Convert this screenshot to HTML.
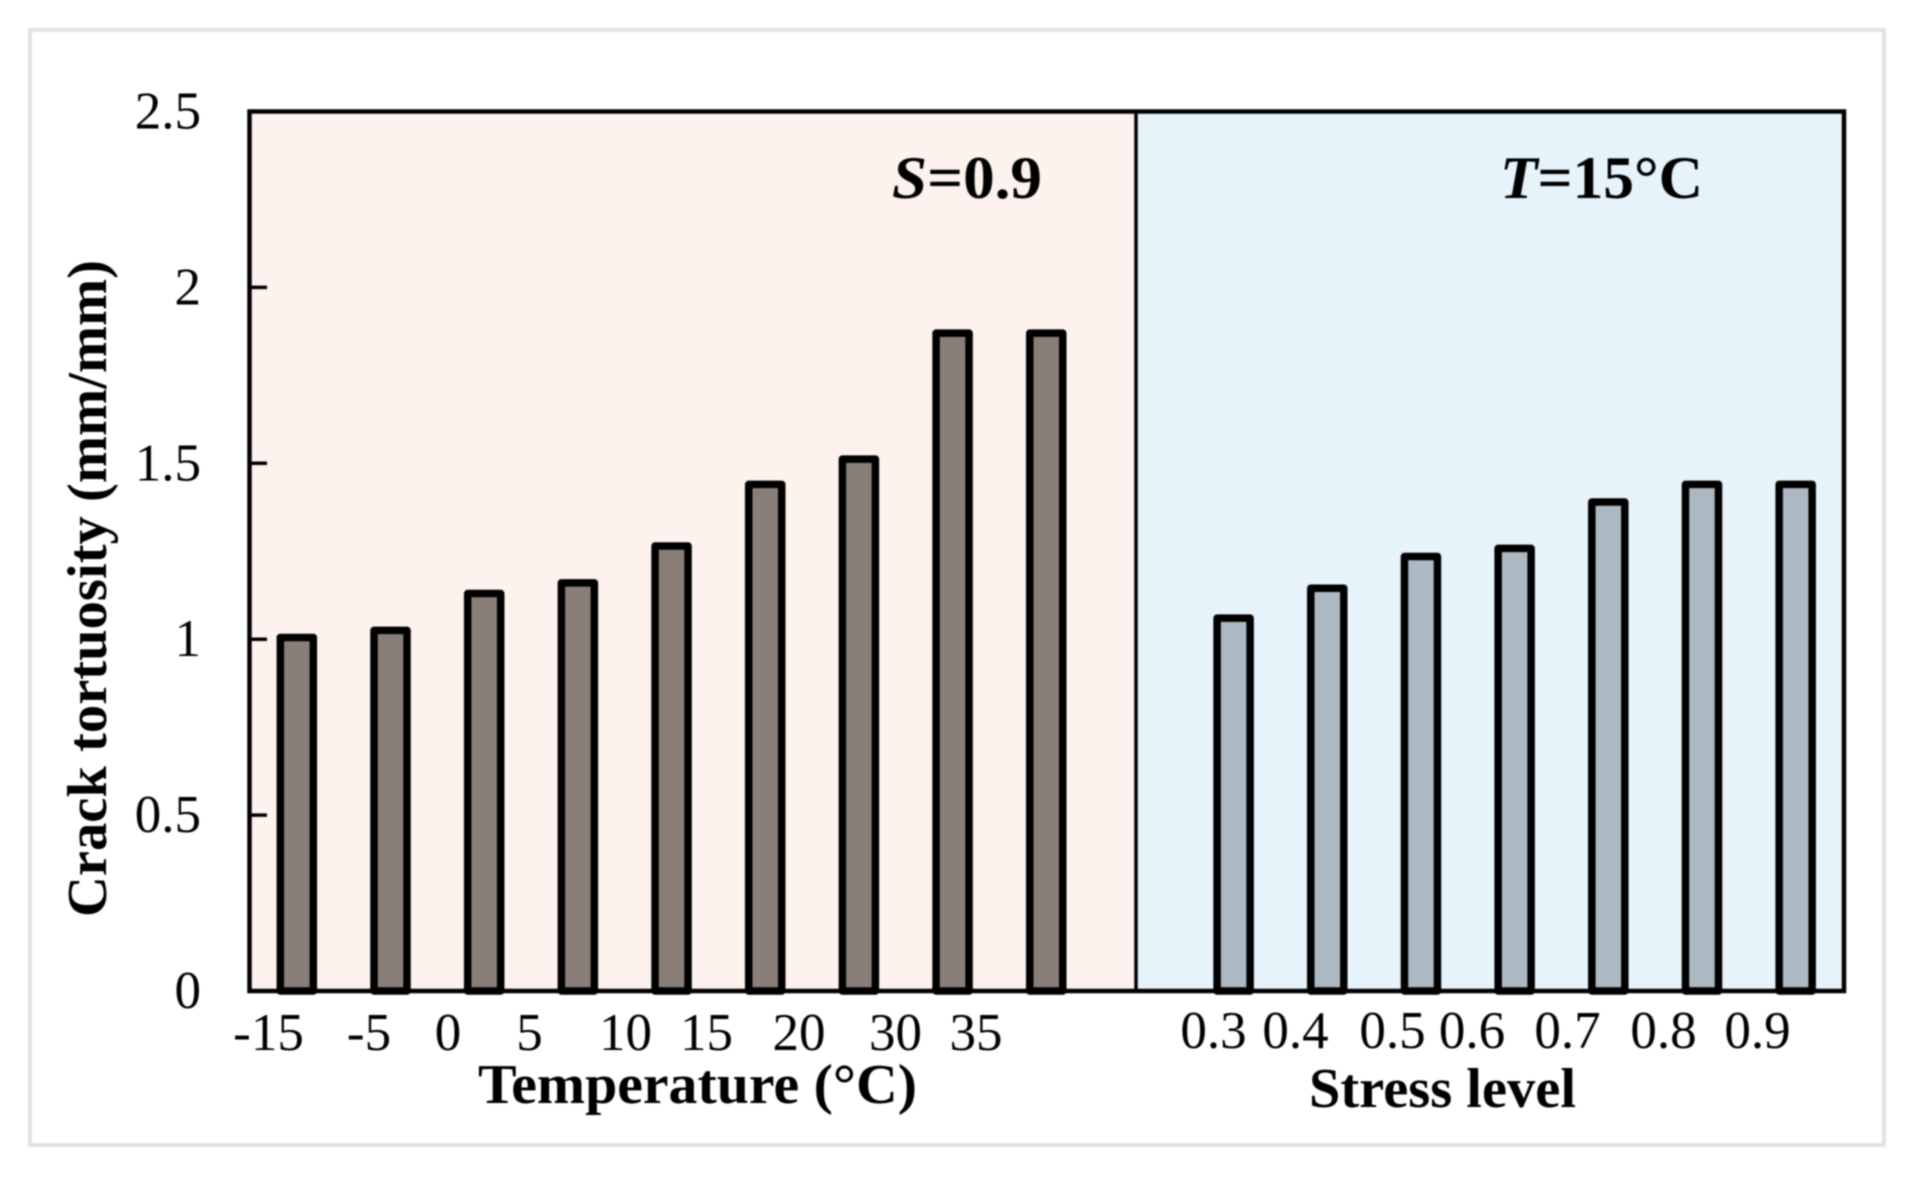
<!DOCTYPE html>
<html lang="en">
<head>
<meta charset="utf-8">
<title>Crack tortuosity chart</title>
<style>
html,body{margin:0;padding:0;background:#fff;width:1913px;height:1181px;overflow:hidden}
svg{display:block;filter:blur(0.8px)}
text{font-family:"Liberation Serif",serif;fill:#000}
.tick{font-size:53px}
.title{font-size:56px;font-weight:bold}
.note{font-size:60px;font-weight:bold}
</style>
</head>
<body>
<svg id="chart" xmlns="http://www.w3.org/2000/svg" width="1913" height="1181" viewBox="0 0 1913 1181">
  <rect x="30" y="30" width="1854" height="1115" fill="#fff" stroke="#e2e2e2" stroke-width="4"/>
  <rect x="250" y="111.5" width="886" height="879.5" fill="#fdf2ed"/>
  <rect x="1136" y="111.5" width="708.5" height="879.5" fill="#e6f3fb"/>
  <g id="bars"></g>
  <g id="ticks"></g>
  <line x1="1136" y1="111.5" x2="1136" y2="991" stroke="#000" stroke-width="3.5"/>
  <rect x="249.5" y="111.5" width="1594.5" height="879.5" fill="none" stroke="#000" stroke-width="4.5"/>

  <text class="title" transform="translate(106,917) rotate(-90)" textLength="657" lengthAdjust="spacingAndGlyphs">Crack tortuosity (mm/mm)</text>

  <g text-anchor="middle">
    <text class="tick" x="268.5" y="1050">-15</text>
    <text class="tick" x="369" y="1050">-5</text>
    <text class="tick" x="448" y="1050">0</text>
    <text class="tick" x="529.5" y="1050">5</text>
    <text class="tick" x="625.5" y="1050">10</text>
    <text class="tick" x="706.5" y="1050">15</text>
    <text class="tick" x="799" y="1050">20</text>
    <text class="tick" x="895.5" y="1050">30</text>
    <text class="tick" x="976" y="1050">35</text>
  </g>
  <g text-anchor="middle">
    <text class="tick" x="1213.5" y="1048">0.3</text>
    <text class="tick" x="1295.5" y="1048">0.4</text>
    <text class="tick" x="1392.5" y="1048">0.5</text>
    <text class="tick" x="1472" y="1048">0.6</text>
    <text class="tick" x="1567.5" y="1048">0.7</text>
    <text class="tick" x="1663.5" y="1048">0.8</text>
    <text class="tick" x="1757.5" y="1048">0.9</text>
  </g>

  <text class="title" x="478" y="1103" textLength="439" lengthAdjust="spacingAndGlyphs">Temperature (°C)</text>
  <text class="title" x="1309" y="1107" textLength="267" lengthAdjust="spacingAndGlyphs">Stress level</text>

  <text class="note" x="892" y="198" textLength="150" lengthAdjust="spacingAndGlyphs"><tspan font-style="italic">S</tspan>=0.9</text>
  <text class="note" x="1500" y="198" textLength="203" lengthAdjust="spacingAndGlyphs"><tspan font-style="italic">T</tspan>=15°C</text>
</svg>
<script>
const temperatureCategories = ['-15', '-5', '0', '5', '10', '15', '20', '30', '35'];
const temperatureValues = [1.005, 1.025, 1.13, 1.16, 1.265, 1.44, 1.512, 1.87, 1.87];
const stressCategories = ['0.3', '0.4', '0.5', '0.6', '0.7', '0.8', '0.9'];
const stressValues = [1.06, 1.145, 1.235, 1.258, 1.39, 1.44, 1.44];
const yTickLabels = ['0', '0.5', '1', '1.5', '2', '2.5'];
const yTickValues = [0, 0.5, 1, 1.5, 2, 2.5];

const SVG_NS = 'http://www.w3.org/2000/svg';
const plot = { left: 250, right: 1842.5, top: 111.5, bottom: 991, yMax: 2.5 };
const slotCount = temperatureCategories.length + 1 + stressCategories.length;
const slotWidth = (plot.right - plot.left) / slotCount;

function xScale(slot) {
  return plot.left + (slot + 0.5) * slotWidth;
}
function yScale(value) {
  return plot.bottom - (value / plot.yMax) * (plot.bottom - plot.top);
}

const barsGroup = document.getElementById('bars');
const ticksGroup = document.getElementById('ticks');
const barWidth = 33;

function drawBar(slot, value, fill) {
  const bar = document.createElementNS(SVG_NS, 'rect');
  
  
  bar.setAttribute('x', xScale(slot) - barWidth / 2);
  bar.setAttribute('y', yScale(value));
  bar.setAttribute('width', barWidth);
  bar.setAttribute('height', plot.bottom - yScale(value));
  bar.setAttribute('fill', fill);
  bar.setAttribute('stroke', '#000');
  bar.setAttribute('stroke-width', '7.5');
  bar.setAttribute('stroke-linejoin', 'round');
  barsGroup.appendChild(bar);
}

temperatureValues.forEach(function (value, i) {
  drawBar(i, value, '#8a7f78');
});
stressValues.forEach(function (value, i) {
  drawBar(temperatureCategories.length + 1 + i, value, '#adb9c2');
});

yTickValues.forEach(function (value, i) {
  const y = yScale(value);
  if (value > 0 && value < plot.yMax) {
    const tick = document.createElementNS(SVG_NS, 'line');
    
    
    tick.setAttribute('x1', plot.left);
    tick.setAttribute('x2', plot.left + 17);
    tick.setAttribute('y1', y);
    tick.setAttribute('y2', y);
    tick.setAttribute('stroke', '#000');
    tick.setAttribute('stroke-width', '3.5');
    ticksGroup.appendChild(tick);
  }
  const label = document.createElementNS(SVG_NS, 'text');
  
  
  label.setAttribute('class', 'tick');
  label.setAttribute('x', 201);
  label.setAttribute('y', y + 17);
  label.setAttribute('text-anchor', 'end');
  label.textContent = yTickLabels[i];
  ticksGroup.appendChild(label);
});
</script>
</body>
</html>
